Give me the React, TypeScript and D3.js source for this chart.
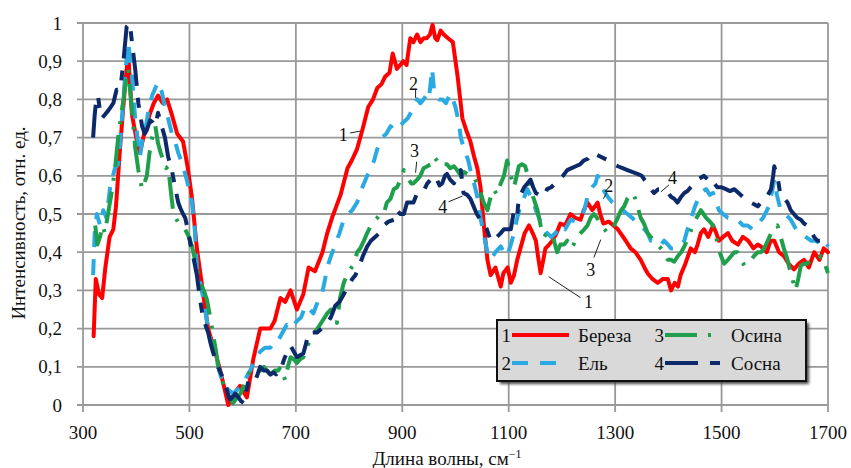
import React from 'react';
import * as d3 from 'd3';

// spectra: [wavenumber, intensity]
const bereza: [number, number][] = [
  [320, 0.18], [324, 0.33], [330, 0.29], [336, 0.28], [342, 0.36], [350, 0.44], [357, 0.46], [362, 0.52],
  [370, 0.68], [378, 0.82], [385, 0.92], [392, 0.76], [400, 0.7], [407, 0.66], [415, 0.71], [425, 0.76],
  [433, 0.79], [441, 0.81], [450, 0.79], [458, 0.8], [467, 0.76], [477, 0.71], [488, 0.69], [497, 0.62],
  [505, 0.54], [514, 0.41], [526, 0.29], [535, 0.2], [548, 0.14], [556, 0.1], [563, 0.06], [573, 0.0],
  [584, 0.03], [595, 0.05], [608, 0.02], [620, 0.12], [633, 0.2], [642, 0.2], [652, 0.2], [660, 0.22],
  [671, 0.28], [680, 0.27], [690, 0.3], [702, 0.25], [714, 0.29], [724, 0.36], [736, 0.35], [750, 0.4],
  [759, 0.45], [768, 0.49], [776, 0.52], [784, 0.55], [797, 0.62], [805, 0.64], [815, 0.67], [825, 0.72],
  [836, 0.78], [845, 0.8], [853, 0.83], [861, 0.84], [868, 0.86], [876, 0.87], [882, 0.92], [890, 0.88],
  [896, 0.89], [902, 0.9], [908, 0.89], [915, 0.96], [921, 0.95], [928, 0.97], [934, 0.95], [940, 0.96],
  [946, 0.96], [952, 0.97], [957, 0.995], [962, 0.96], [966, 0.955], [972, 0.98], [978, 0.97], [986, 0.96],
  [995, 0.95], [1004, 0.86], [1013, 0.75], [1020, 0.72], [1028, 0.69], [1035, 0.65], [1041, 0.62], [1047, 0.57],
  [1054, 0.46], [1060, 0.38], [1066, 0.34], [1075, 0.36], [1085, 0.31], [1090, 0.345], [1098, 0.36], [1104, 0.32],
  [1110, 0.34], [1116, 0.38], [1122, 0.41], [1130, 0.45], [1138, 0.47], [1145, 0.45], [1151, 0.43], [1156, 0.38],
  [1160, 0.345], [1165, 0.38], [1169, 0.41], [1176, 0.42], [1182, 0.43], [1190, 0.45], [1197, 0.475], [1206, 0.47],
  [1216, 0.5], [1225, 0.49], [1235, 0.485], [1241, 0.51], [1248, 0.53], [1257, 0.51], [1267, 0.53], [1272, 0.5],
  [1278, 0.475], [1288, 0.48], [1297, 0.47], [1305, 0.46], [1310, 0.45], [1320, 0.43], [1329, 0.41], [1338, 0.4],
  [1348, 0.38], [1355, 0.36], [1361, 0.345], [1370, 0.33], [1380, 0.32], [1390, 0.33], [1399, 0.33], [1405, 0.3],
  [1412, 0.32], [1418, 0.31], [1423, 0.34], [1432, 0.37], [1442, 0.41], [1450, 0.4], [1455, 0.42], [1461, 0.45],
  [1467, 0.46], [1475, 0.44], [1484, 0.47], [1490, 0.45], [1495, 0.43], [1503, 0.44], [1512, 0.45], [1520, 0.43],
  [1531, 0.42], [1540, 0.44], [1550, 0.43], [1560, 0.41], [1568, 0.42], [1574, 0.415], [1585, 0.4], [1592, 0.43],
  [1599, 0.43], [1608, 0.4], [1617, 0.39], [1626, 0.37], [1636, 0.355], [1645, 0.37], [1655, 0.38], [1664, 0.36],
  [1674, 0.4], [1684, 0.38], [1692, 0.41], [1700, 0.4],
];

const el: [number, number][] = [
  [319, 0.34], [322, 0.45], [326, 0.5], [332, 0.47], [338, 0.51], [344, 0.49], [351, 0.57], [360, 0.62],
  [366, 0.63], [370, 0.69], [379, 0.86], [385, 0.95], [392, 0.86], [398, 0.75], [404, 0.68], [407, 0.65],
  [412, 0.7], [417, 0.72], [424, 0.78], [430, 0.81], [436, 0.83], [441, 0.845], [448, 0.82], [454, 0.78],
  [460, 0.75], [467, 0.71], [473, 0.69], [479, 0.66], [487, 0.63], [495, 0.59], [505, 0.53], [510, 0.46],
  [514, 0.36], [520, 0.32], [526, 0.28], [533, 0.22], [539, 0.17], [545, 0.14], [551, 0.12], [558, 0.08],
  [564, 0.05], [573, 0.04], [582, 0.03], [590, 0.04], [599, 0.05], [606, 0.07], [614, 0.09], [624, 0.12],
  [633, 0.14], [642, 0.15], [652, 0.15], [660, 0.17], [667, 0.17], [675, 0.19], [683, 0.21], [692, 0.2],
  [702, 0.22], [710, 0.23], [718, 0.26], [726, 0.25], [733, 0.24], [741, 0.27], [749, 0.29], [755, 0.33],
  [759, 0.36], [766, 0.39], [774, 0.42], [782, 0.45], [790, 0.485], [798, 0.5], [806, 0.51], [815, 0.53],
  [822, 0.56], [828, 0.58], [834, 0.6], [840, 0.615], [847, 0.64], [853, 0.67], [862, 0.7], [870, 0.71],
  [878, 0.73], [884, 0.72], [890, 0.72], [896, 0.73], [902, 0.74], [910, 0.75], [918, 0.77], [928, 0.8],
  [934, 0.79], [940, 0.8], [945, 0.81], [950, 0.8], [956, 0.88], [960, 0.82], [963, 0.81], [969, 0.8],
  [975, 0.8], [982, 0.79], [990, 0.815], [995, 0.8], [1000, 0.78], [1006, 0.74], [1010, 0.7], [1014, 0.68],
  [1019, 0.66], [1024, 0.64], [1028, 0.615], [1035, 0.58], [1041, 0.545], [1047, 0.49], [1054, 0.44], [1060, 0.4],
  [1066, 0.38], [1075, 0.4], [1085, 0.415], [1091, 0.4], [1097, 0.39], [1104, 0.42], [1110, 0.45], [1116, 0.49],
  [1122, 0.52], [1128, 0.54], [1135, 0.565], [1140, 0.55], [1145, 0.54], [1151, 0.51], [1157, 0.49], [1163, 0.47],
  [1172, 0.45], [1180, 0.44], [1188, 0.45], [1197, 0.47], [1206, 0.46], [1216, 0.485], [1225, 0.48], [1235, 0.49],
  [1242, 0.51], [1248, 0.545], [1257, 0.57], [1263, 0.58], [1267, 0.6], [1275, 0.57], [1286, 0.545], [1295, 0.53],
  [1305, 0.52], [1314, 0.51], [1323, 0.5], [1332, 0.49], [1342, 0.475], [1348, 0.47], [1355, 0.46], [1361, 0.45],
  [1367, 0.43], [1374, 0.43], [1380, 0.42], [1386, 0.42], [1392, 0.43], [1399, 0.42], [1405, 0.41], [1411, 0.41],
  [1418, 0.415], [1424, 0.42], [1430, 0.43], [1436, 0.46], [1442, 0.485], [1450, 0.52], [1458, 0.545], [1465, 0.56],
  [1471, 0.565], [1478, 0.55], [1484, 0.555], [1490, 0.53], [1495, 0.51], [1503, 0.5], [1512, 0.49], [1520, 0.49],
  [1530, 0.485], [1540, 0.47], [1549, 0.47], [1558, 0.46], [1568, 0.475], [1578, 0.49], [1589, 0.52], [1595, 0.56],
  [1599, 0.59], [1604, 0.55], [1611, 0.51], [1620, 0.5], [1630, 0.485], [1640, 0.46], [1649, 0.45], [1658, 0.44],
  [1668, 0.43], [1678, 0.43], [1687, 0.42], [1694, 0.43], [1700, 0.415],
];

const osina: [number, number][] = [
  [323, 0.47], [327, 0.42], [332, 0.44], [337, 0.47], [341, 0.45], [347, 0.5], [353, 0.55], [360, 0.615],
  [366, 0.7], [373, 0.77], [380, 0.84], [385, 0.88], [392, 0.77], [398, 0.675], [404, 0.615], [411, 0.565],
  [415, 0.58], [420, 0.6], [425, 0.66], [430, 0.7], [436, 0.73], [441, 0.685], [446, 0.66], [451, 0.64],
  [456, 0.62], [460, 0.625], [465, 0.56], [470, 0.5], [478, 0.48], [485, 0.47], [492, 0.46], [499, 0.44],
  [505, 0.415], [512, 0.37], [520, 0.32], [527, 0.3], [533, 0.275], [539, 0.23], [545, 0.18], [550, 0.14],
  [554, 0.1], [560, 0.07], [567, 0.04], [575, 0.02], [582, 0.005], [590, 0.02], [596, 0.03], [602, 0.05],
  [608, 0.07], [614, 0.09], [622, 0.1], [633, 0.09], [640, 0.1], [645, 0.09], [652, 0.08], [660, 0.09],
  [667, 0.09], [671, 0.1], [676, 0.08], [680, 0.065], [685, 0.1], [690, 0.125], [696, 0.12], [702, 0.11],
  [708, 0.12], [714, 0.125], [720, 0.15], [727, 0.17], [735, 0.19], [743, 0.205], [750, 0.22], [759, 0.24],
  [766, 0.25], [771, 0.24], [777, 0.215], [783, 0.28], [790, 0.32], [796, 0.34], [802, 0.355], [810, 0.37],
  [815, 0.4], [821, 0.41], [828, 0.43], [834, 0.45], [841, 0.47], [849, 0.485], [853, 0.49], [858, 0.5],
  [865, 0.5], [871, 0.53], [878, 0.54], [884, 0.565], [890, 0.57], [897, 0.59], [903, 0.615], [908, 0.6],
  [912, 0.59], [917, 0.58], [921, 0.58], [928, 0.59], [934, 0.6], [940, 0.62], [947, 0.625], [953, 0.63],
  [959, 0.65], [965, 0.64], [972, 0.625], [978, 0.63], [984, 0.63], [990, 0.62], [997, 0.625], [1003, 0.615],
  [1010, 0.6], [1016, 0.61], [1022, 0.605], [1028, 0.6], [1034, 0.6], [1040, 0.58], [1047, 0.555], [1053, 0.53],
  [1060, 0.51], [1066, 0.545], [1072, 0.565], [1078, 0.55], [1085, 0.58], [1091, 0.6], [1097, 0.64], [1104, 0.6],
  [1110, 0.57], [1115, 0.6], [1119, 0.625], [1125, 0.63], [1131, 0.625], [1136, 0.6], [1141, 0.565], [1147, 0.54],
  [1154, 0.51], [1160, 0.47], [1166, 0.44], [1172, 0.45], [1178, 0.45], [1185, 0.43], [1191, 0.4], [1197, 0.42],
  [1204, 0.42], [1210, 0.43], [1216, 0.41], [1222, 0.42], [1228, 0.44], [1235, 0.45], [1242, 0.46], [1248, 0.47],
  [1254, 0.49], [1260, 0.5], [1266, 0.49], [1273, 0.47], [1280, 0.46], [1286, 0.45], [1292, 0.46], [1298, 0.47],
  [1305, 0.49], [1311, 0.51], [1317, 0.52], [1323, 0.54], [1328, 0.55], [1333, 0.555], [1338, 0.54], [1342, 0.52],
  [1348, 0.49], [1354, 0.475], [1361, 0.45], [1367, 0.44], [1373, 0.43], [1380, 0.42], [1386, 0.41], [1392, 0.4],
  [1399, 0.38], [1405, 0.38], [1411, 0.375], [1418, 0.39], [1424, 0.4], [1430, 0.415], [1438, 0.44], [1446, 0.47],
  [1453, 0.49], [1461, 0.51], [1466, 0.5], [1471, 0.49], [1478, 0.48], [1484, 0.47], [1490, 0.44], [1493, 0.415],
  [1499, 0.39], [1505, 0.37], [1512, 0.38], [1518, 0.39], [1524, 0.4], [1530, 0.4], [1536, 0.38], [1543, 0.365],
  [1549, 0.37], [1555, 0.38], [1561, 0.39], [1568, 0.4], [1574, 0.4], [1580, 0.41], [1587, 0.43], [1593, 0.45],
  [1599, 0.46], [1605, 0.47], [1611, 0.44], [1617, 0.41], [1624, 0.38], [1630, 0.345], [1635, 0.32], [1639, 0.3],
  [1644, 0.33], [1649, 0.365], [1655, 0.37], [1661, 0.37], [1668, 0.38], [1674, 0.38], [1680, 0.38], [1687, 0.39],
  [1694, 0.37], [1700, 0.345],
];

const sosna: [number, number][] = [
  [319, 0.7], [322, 0.76], [325, 0.8], [328, 0.81], [331, 0.78], [335, 0.75], [341, 0.76], [347, 0.77],
  [352, 0.78], [357, 0.79], [363, 0.825], [370, 0.825], [376, 0.9], [382, 0.99], [388, 1.0], [392, 0.95],
  [398, 0.88], [404, 0.79], [411, 0.73], [416, 0.71], [420, 0.72], [426, 0.745], [431, 0.74], [436, 0.73],
  [441, 0.765], [448, 0.73], [454, 0.7], [460, 0.65], [467, 0.615], [473, 0.57], [479, 0.53], [483, 0.515],
  [488, 0.5], [492, 0.49], [497, 0.46], [502, 0.42], [507, 0.39], [514, 0.34], [520, 0.275], [526, 0.225],
  [535, 0.19], [540, 0.16], [545, 0.135], [554, 0.1], [560, 0.08], [567, 0.06], [572, 0.03], [576, 0.015],
  [581, 0.02], [586, 0.03], [592, 0.02], [597, 0.01], [602, 0.005], [606, 0.03], [611, 0.065], [618, 0.07],
  [624, 0.065], [628, 0.08], [633, 0.1], [640, 0.09], [646, 0.09], [652, 0.08], [658, 0.085], [663, 0.08],
  [667, 0.09], [671, 0.09], [678, 0.12], [684, 0.14], [690, 0.155], [696, 0.14], [702, 0.125], [708, 0.13],
  [714, 0.135], [719, 0.16], [724, 0.19], [732, 0.19], [740, 0.19], [748, 0.2], [754, 0.21], [759, 0.215],
  [766, 0.23], [774, 0.26], [782, 0.27], [790, 0.29], [798, 0.31], [806, 0.33], [812, 0.34], [818, 0.36],
  [826, 0.39], [834, 0.415], [841, 0.43], [849, 0.44], [857, 0.45], [865, 0.47], [874, 0.48], [884, 0.485],
  [890, 0.51], [896, 0.5], [903, 0.5], [909, 0.53], [915, 0.53], [921, 0.53], [928, 0.555], [934, 0.56],
  [940, 0.56], [947, 0.58], [953, 0.59], [959, 0.6], [965, 0.59], [970, 0.575], [975, 0.58], [980, 0.6],
  [984, 0.605], [990, 0.59], [997, 0.58], [1003, 0.6], [1010, 0.615], [1015, 0.555], [1022, 0.55], [1028, 0.54],
  [1034, 0.52], [1040, 0.5], [1047, 0.485], [1053, 0.475], [1059, 0.46], [1066, 0.43], [1072, 0.43], [1078, 0.44],
  [1085, 0.45], [1091, 0.46], [1097, 0.46], [1104, 0.46], [1110, 0.51], [1116, 0.495], [1119, 0.545], [1124, 0.555],
  [1129, 0.57], [1135, 0.58], [1141, 0.59], [1146, 0.57], [1151, 0.555], [1157, 0.55], [1163, 0.545], [1168, 0.55],
  [1172, 0.565], [1180, 0.57], [1187, 0.58], [1194, 0.59], [1202, 0.6], [1210, 0.615], [1218, 0.62], [1226, 0.625],
  [1234, 0.63], [1241, 0.64], [1249, 0.645], [1257, 0.66], [1265, 0.655], [1273, 0.65], [1280, 0.645], [1288, 0.64],
  [1296, 0.63], [1305, 0.625], [1314, 0.62], [1323, 0.615], [1332, 0.61], [1342, 0.605], [1350, 0.6], [1355, 0.59],
  [1361, 0.58], [1367, 0.565], [1373, 0.555], [1381, 0.565], [1389, 0.565], [1397, 0.56], [1405, 0.545], [1411, 0.54],
  [1417, 0.53], [1424, 0.545], [1430, 0.555], [1436, 0.56], [1442, 0.57], [1449, 0.58], [1455, 0.59], [1461, 0.595],
  [1467, 0.6], [1474, 0.59], [1480, 0.595], [1486, 0.58], [1492, 0.57], [1500, 0.57], [1508, 0.565], [1516, 0.56],
  [1524, 0.565], [1532, 0.555], [1540, 0.545], [1548, 0.54], [1555, 0.53], [1562, 0.525], [1568, 0.52], [1574, 0.53],
  [1580, 0.54], [1587, 0.55], [1593, 0.565], [1597, 0.6], [1599, 0.625], [1602, 0.61], [1605, 0.6], [1611, 0.545],
  [1618, 0.54], [1624, 0.53], [1630, 0.51], [1636, 0.5], [1642, 0.49], [1649, 0.485], [1655, 0.475], [1661, 0.47],
  [1668, 0.455], [1674, 0.44], [1680, 0.43], [1687, 0.43], [1694, 0.42], [1700, 0.415],
];

const xTicks = [300, 500, 700, 900, 1100, 1300, 1500, 1700];
const yTicks = [0, 0.1, 0.2, 0.3, 0.4, 0.5, 0.6, 0.7, 0.8, 0.9, 1];

const SERIES = [
  { num: '1', name: 'Береза', data: bereza, color: '#ff0000', dash: null, legendLen: 57 },
  { num: '2', name: 'Ель', data: el, color: '#2aaae2', dash: '16 12', legendLen: 45 },
  { num: '3', name: 'Осина', data: osina, color: '#1f9e4b', dash: '32 11 3 11', legendLen: 48 },
  { num: '4', name: 'Сосна', data: sosna, color: '#0c2a6a', dash: '33 12 10 12', legendLen: 55 },
];

// curve labels: text position and leader line, in data units
const CALLOUTS = [
  { t: '1', tx: 789, ty: 0.707, l: [[802, 0.712], [821, 0.717]] },
  { t: '2', tx: 921, ty: 0.84, l: [[925, 0.825], [925, 0.804]] },
  { t: '3', tx: 923, ty: 0.665, l: [[927, 0.637], [925, 0.608]] },
  { t: '4', tx: 976, ty: 0.519, l: [[987, 0.532], [1013, 0.547]] },
  { t: '2', tx: 1288, ty: 0.574, l: [[1284, 0.556], [1278, 0.54]] },
  { t: '3', tx: 1254, ty: 0.354, l: [[1260, 0.386], [1273, 0.433]] },
  { t: '1', tx: 1250, ty: 0.27, l: [[1235, 0.281], [1175, 0.336]] },
  { t: '4', tx: 1408, ty: 0.595, l: [[1401, 0.576], [1386, 0.558]] },
];

const W = 851;
const H = 468;
const FONT = "'Times New Roman', Times, 'Liberation Serif', 'Noto Serif', 'DejaVu Serif', serif";
const GRID = '#999';
const TEXT = { fontFamily: FONT, fill: '#111' };

export default function App() {
  const x = d3.scaleLinear().domain([300, 1700]).range([83, 828]);
  const y = d3.scaleLinear().domain([0, 1]).range([405, 23]);
  const line = d3
    .line<[number, number]>()
    .x((d) => x(d[0]))
    .y((d) => y(d[1]));
  const fmt = (v: number) => (v === 0 || v === 1 ? String(v) : d3.format('.1f')(v).replace('.', ','));

  const [x0, x1] = x.range();
  const [yb, yt] = y.range();

  // legend layout
  const lg = { x: 497, y: 320, w: 309, h: 61 };
  const rows = [335, 363];
  const cols = [512, 665];

  return (
    <div style={{ position: 'fixed', left: 0, top: 0 }}>
      <svg width={W} height={H} style={{ display: 'block', background: '#fff' }}>
        <defs>
          <filter id="shadow" x="-10%" y="-20%" width="130%" height="160%">
            <feGaussianBlur stdDeviation="1.5" />
          </filter>
        </defs>

        {/* grid */}
        {yTicks.map((v) => (
          <line key={'gy' + v} x1={x0 - 6} x2={x1} y1={y(v)} y2={y(v)} stroke={GRID} strokeWidth={1.8} />
        ))}
        {xTicks.map((v) => (
          <line key={'gx' + v} x1={x(v)} x2={x(v)} y1={yt} y2={yb + 7} stroke={GRID} strokeWidth={1.8} />
        ))}

        {/* tick labels */}
        {yTicks.map((v) => (
          <text key={'ly' + v} x={62} y={y(v)} dy="0.35em" textAnchor="end" fontSize={19} style={TEXT}>
            {fmt(v)}
          </text>
        ))}
        {xTicks.map((v) => (
          <text key={'lx' + v} x={x(v)} y={439} textAnchor="middle" fontSize={19} style={TEXT}>
            {v}
          </text>
        ))}

        {/* axis titles */}
        <text x={447} y={465} textAnchor="middle" fontSize={19} style={TEXT}>
          Длина волны, см
          <tspan dy={-7} fontSize={12}>
            −1
          </tspan>
        </text>
        <text transform="translate(25, 223) rotate(-90)" textAnchor="middle" fontSize={19} style={TEXT}>
          Интенсивность, отн. ед.
        </text>

        {/* spectra */}
        {SERIES.map((s) => (
          <path
            key={s.name}
            d={line(s.data) || ''}
            fill="none"
            stroke={s.color}
            strokeWidth={4}
            strokeLinejoin="round"
            strokeLinecap={s.dash ? 'butt' : 'round'}
            strokeDasharray={s.dash || undefined}
          />
        ))}

        {/* curve callouts */}
        {CALLOUTS.map((c, i) => (
          <g key={'c' + i}>
            <line
              x1={x(c.l[0][0])}
              y1={y(c.l[0][1])}
              x2={x(c.l[1][0])}
              y2={y(c.l[1][1])}
              stroke="#222"
              strokeWidth={1}
            />
            <text x={x(c.tx)} y={y(c.ty)} dy="0.35em" textAnchor="middle" fontSize={18} style={TEXT}>
              {c.t}
            </text>
          </g>
        ))}

        {/* legend */}
        <rect x={lg.x + 3} y={lg.y + 3} width={lg.w} height={lg.h} fill="#444" filter="url(#shadow)" />
        <rect x={lg.x} y={lg.y} width={lg.w} height={lg.h} fill="#d9d9d9" stroke="#111" strokeWidth={2} />
        {SERIES.map((s, i) => {
          const col = cols[Math.floor(i / 2)];
          const ry = rows[i % 2];
          return (
            <g key={'lg' + s.name}>
              <text x={col - 1} y={ry} dy="0.35em" textAnchor="end" fontSize={19} style={TEXT}>
                {s.num}
              </text>
              <line
                x1={col}
                x2={col + s.legendLen}
                y1={ry}
                y2={ry}
                stroke={s.color}
                strokeWidth={4}
                strokeDasharray={s.dash || undefined}
              />
              <text x={col + 66} y={ry} dy="0.35em" fontSize={19} style={TEXT}>
                {s.name}
              </text>
            </g>
          );
        })}
      </svg>
    </div>
  );
}
